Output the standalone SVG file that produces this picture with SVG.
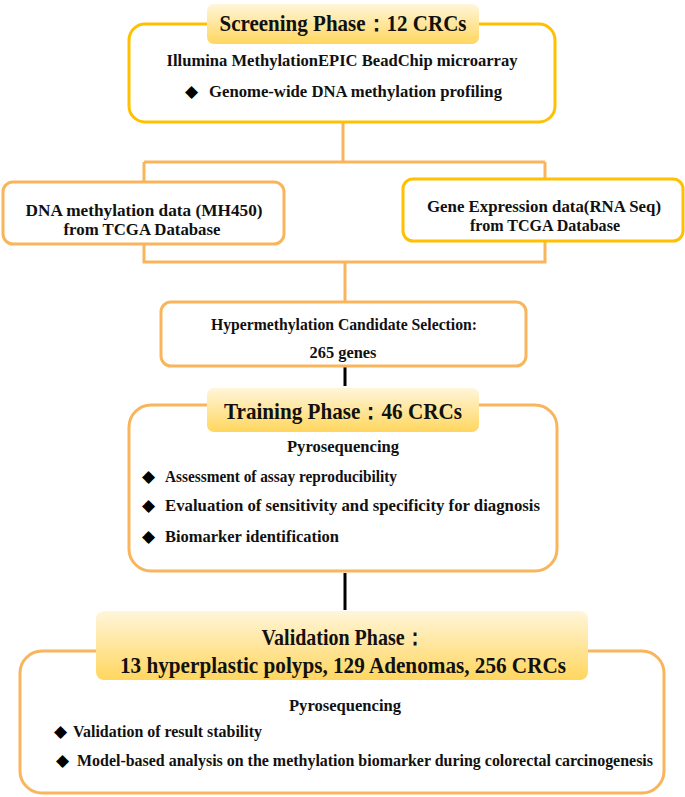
<svg xmlns="http://www.w3.org/2000/svg" width="685" height="797" viewBox="0 0 685 797">
<defs>
<linearGradient id="ban" x1="0" y1="0" x2="0" y2="1">
<stop offset="0" stop-color="#FFF6DA"/>
<stop offset="1" stop-color="#FFD65E"/>
</linearGradient>
<style>
.box{fill:#fff;stroke:#F9B55C;stroke-width:3}
.gold{stroke:#FFC000}
.ban{fill:url(#ban);stroke:none}
.t{font-family:"Liberation Serif","Times New Roman",serif;font-weight:bold;fill:#111}
.c{text-anchor:middle}
.b{font-family:"DejaVu Sans",sans-serif;fill:#000}
.con{fill:none;stroke:#F9B55C;stroke-width:3}
.blk{fill:none;stroke:#000;stroke-width:3}
</style>
</defs>
<g id="connectors">
<path class="con" d="M343 122V162M144 162H545M144 162V182M545 162V179M144 244V262H545V241M345 262V302"/>
<path class="blk" d="M345 366V386M345 573V610"/>
</g>
<g id="screening">
<rect class="box gold" x="129" y="24" width="426" height="98" rx="16"/>
<rect class="ban" x="207" y="4" width="272" height="40" rx="7"/>
<text class="t c" x="343" y="31" font-size="23" textLength="247" lengthAdjust="spacingAndGlyphs">Screening Phase：12 CRCs</text>
<text class="t c" x="342" y="66" font-size="17.5" textLength="351" lengthAdjust="spacingAndGlyphs">Illumina MethylationEPIC BeadChip microarray</text>
<text class="b" x="185" y="97" font-size="17">◆</text>
<text class="t" x="209" y="97" font-size="17.5" textLength="293" lengthAdjust="spacingAndGlyphs">Genome-wide DNA methylation profiling</text>
</g>
<g id="methylation-data">
<rect class="box" x="3" y="182" width="281" height="62" rx="10"/>
<text class="t c" x="144" y="216" font-size="16.5" textLength="237" lengthAdjust="spacingAndGlyphs">DNA methylation data (MH450)</text>
<text class="t c" x="142" y="235" font-size="16.5" textLength="157" lengthAdjust="spacingAndGlyphs">from TCGA Database</text>
</g>
<g id="expression-data">
<rect class="box gold" x="403" y="179" width="280" height="62" rx="10"/>
<text class="t c" x="544" y="212" font-size="16.5" textLength="234" lengthAdjust="spacingAndGlyphs">Gene Expression data(RNA Seq)</text>
<text class="t c" x="545" y="231" font-size="16.5" textLength="150" lengthAdjust="spacingAndGlyphs">from TCGA Database</text>
</g>
<g id="candidate">
<rect class="box" x="161" y="302" width="365" height="64" rx="10"/>
<text class="t c" x="344" y="330" font-size="17" textLength="266" lengthAdjust="spacingAndGlyphs">Hypermethylation Candidate Selection:</text>
<text class="t c" x="343" y="358" font-size="17" textLength="67" lengthAdjust="spacingAndGlyphs">265 genes</text>
</g>
<g id="training">
<rect class="box" x="129" y="405" width="428" height="166" rx="22"/>
<rect class="ban" x="207" y="388" width="272" height="44" rx="7"/>
<text class="t c" x="343" y="419" font-size="23" textLength="238" lengthAdjust="spacingAndGlyphs">Training Phase：46 CRCs</text>
<text class="t c" x="343" y="452" font-size="17.5" textLength="112" lengthAdjust="spacingAndGlyphs">Pyrosequencing</text>
<text class="b" x="142" y="482" font-size="17">◆</text>
<text class="t" x="165" y="482" font-size="17.5" textLength="232" lengthAdjust="spacingAndGlyphs">Assessment of assay reproducibility</text>
<text class="b" x="142" y="511" font-size="17">◆</text>
<text class="t" x="165" y="511" font-size="17.5" textLength="375" lengthAdjust="spacingAndGlyphs">Evaluation of sensitivity and specificity for diagnosis</text>
<text class="b" x="142" y="542" font-size="17">◆</text>
<text class="t" x="165" y="542" font-size="17.5" textLength="174" lengthAdjust="spacingAndGlyphs">Biomarker identification</text>
</g>
<g id="validation">
<rect class="box" x="20" y="651" width="644" height="142" rx="22"/>
<rect class="ban" x="96" y="611" width="492" height="69" rx="8"/>
<text class="t c" x="343" y="645" font-size="24" textLength="163" lengthAdjust="spacingAndGlyphs">Validation Phase：</text>
<text class="t c" x="343" y="673" font-size="24" textLength="446" lengthAdjust="spacingAndGlyphs">13 hyperplastic polyps, 129 Adenomas, 256 CRCs</text>
<text class="t c" x="345" y="711" font-size="17.5" textLength="112" lengthAdjust="spacingAndGlyphs">Pyrosequencing</text>
<text class="b" x="54" y="737" font-size="17">◆</text>
<text class="t" x="73" y="737" font-size="17.5" textLength="189" lengthAdjust="spacingAndGlyphs">Validation of result stability</text>
<text class="b" x="56" y="766" font-size="17">◆</text>
<text class="t" x="77" y="766" font-size="17" textLength="576" lengthAdjust="spacingAndGlyphs">Model-based analysis on the methylation biomarker during colorectal carcinogenesis</text>
</g>
</svg>
